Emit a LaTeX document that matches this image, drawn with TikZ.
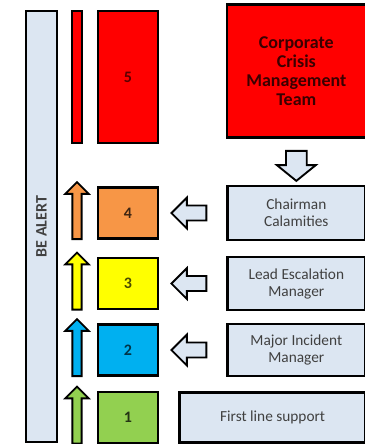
\documentclass[tikz,border=0pt]{standalone}
\usepackage{fontspec}
\setmainfont{Carlito}
\usetikzlibrary{positioning,shapes.arrows,calc}

\definecolor{paleblue}{HTML}{DCE6F2}
\definecolor{lvred}{HTML}{FF0000}
\definecolor{lvorange}{HTML}{F79646}
\definecolor{lvyellow}{HTML}{FFFF00}
\definecolor{lvblue}{HTML}{00B0F0}
\definecolor{lvgreen}{HTML}{92D050}
\definecolor{darkgrey}{HTML}{404040}
\definecolor{darkred}{HTML}{3A0000}

\begin{document}
\begin{tikzpicture}[x=0.75pt, y=-0.75pt,
    level/.style={draw, line width=2pt, minimum width=45pt, minimum height=38.25pt, inner sep=0pt, font=\fontsize{12}{14}\selectfont\bfseries},
    role/.style={draw, line width=2pt, fill=paleblue, minimum width=103.5pt, minimum height=39pt, align=center, text=darkgrey, font=\fontsize{11.5}{12.75}\selectfont},
    uparrow/.style={single arrow, draw, line width=1.4pt, shape border rotate=90, inner sep=2.8pt, minimum height=42.75pt, single arrow head extend=5.25pt, single arrow tip angle=90},
    blockarrow/.style={single arrow, draw, line width=1.4pt, fill=paleblue, inner sep=4.9pt, minimum height=26.25pt, single arrow head extend=6pt, single arrow tip angle=90}]
\useasboundingbox (0,0) rectangle (365,444);

% alert bar
\node[draw, line width=2pt, fill=paleblue, rotate=90, minimum width=323.25pt, minimum height=23.25pt, text=darkgrey, font=\fontsize{12}{14}\selectfont\bfseries] (bar) at (41.5,226.5) {BE ALERT};

% levels
\node[draw, line width=2pt, fill=lvred, minimum width=7.5pt, minimum height=99pt, inner sep=0pt] (l5bar) at (77,77) {};
\node[level, fill=lvred, minimum height=99pt, text=lvred!35!black] (l5) at (128,77) {5};
\node[level, fill=lvorange, text=lvorange!25!black] (l4) at (128,213) {4};
\node[level, fill=lvyellow, text=lvyellow!30!black] (l3) at (128,283.5) {3};
\node[level, fill=lvblue, text=lvblue!30!black] (l2) at (128,350) {2};
\node[level, fill=lvgreen, text=lvgreen!25!black] (l1) at (128,417.5) {1};

\node[uparrow, fill=lvorange] (u4) at (l5bar |- l4) {};
\node[uparrow, fill=lvyellow] (u3) at (l5bar |- l3) {};
\node[uparrow, fill=lvblue] (u2) at (l5bar |- l2) {};
\node[uparrow, fill=lvgreen] (u1) at (l5bar |- l1) {};

% roles
\node[role, right=50pt of l4, minimum height=40.5pt] (chair) {Chairman\\Calamities};
\node[role, right=50pt of l3, minimum height=39.75pt] (lead) {Lead Escalation\\Manager};
\node[role, right=50pt of l2] (major) {Major Incident\\Manager};
\node[role, right=14.25pt of l1, minimum width=139.5pt, minimum height=37.5pt] (first) {First line support};
\node[role, above=34.5pt of chair, fill=lvred, minimum width=104.25pt, minimum height=99.75pt, text=darkred, font=\fontsize{13.5}{14.25}\selectfont\bfseries] (corp) {Corporate\\Crisis\\Management\\Team};

% escalation arrows
\node[blockarrow, shape border rotate=270, inner sep=7.1pt, minimum height=22.5pt, single arrow head extend=6.75pt, single arrow tip angle=102] (down) at ($(corp.south)!0.5!(chair.north)$) {};
\node[blockarrow, shape border rotate=180] (a4) at ($(chair.west)!0.5!(l4.east)$) {};
\node[blockarrow, shape border rotate=180] (a3) at ($(lead.west)!0.5!(l3.east)$) {};
\node[blockarrow, shape border rotate=180] (a2) at ($(major.west)!0.5!(l2.east)$) {};
\end{tikzpicture}
\end{document}
